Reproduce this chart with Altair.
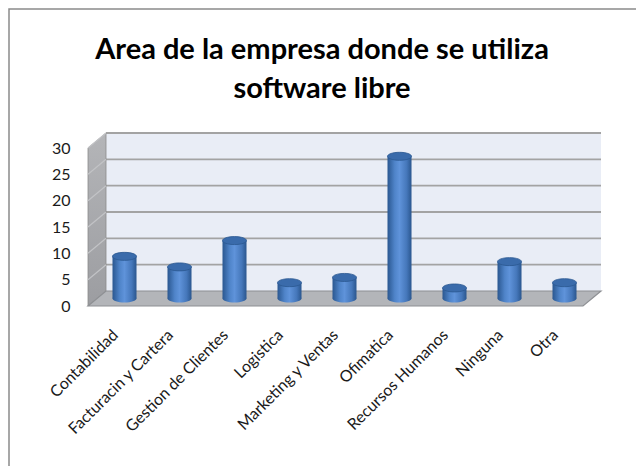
import altair as alt
import pandas as pd

# ---- data ----
categories = ["Contabilidad", "Facturacin y Cartera", "Gestion de Clientes", "Logistica",
              "Marketing y Ventas", "Ofimatica", "Recursos Humanos", "Ninguna", "Otra"]
values = [8, 6, 11, 3, 4, 27, 2, 7, 3]
y_ticks = [0, 5, 10, 15, 20, 25, 30]
title_lines = ["Area de la empresa donde se utiliza", "software libre"]

# ---- geometry / style ----
W, H = 495, 158          # front plane of the 3D box
DX, DY = 18, -15         # depth offset of the back wall
PAD_L, PAD_T = 80, 140
TOTAL_W, TOTAL_H = 628, 458
FONT = "Lato"

df = pd.DataFrame({"cat": categories, "val": values})
ticks_df = pd.DataFrame({"v": y_ticks})
one = pd.DataFrame({"k": [0]})

y_scale = alt.Scale(domain=[0, 30], nice=False, zero=True)
y_axis = alt.Axis(values=y_ticks, title=None, grid=False, domain=False, ticks=False,
                  labelPadding=18, labelFont=FONT, labelFontSize=16, labelColor="#1a1a1a")

x_enc = alt.X("cat:N", sort=categories,
              scale=alt.Scale(paddingInner=0, paddingOuter=0),
              axis=alt.Axis(title=None, labelAngle=-45, labelAlign="right",
                            labelBaseline="middle", labelPadding=26, domain=False,
                            ticks=False, labelFont=FONT, labelFontSize=16,
                            labelColor="#1a1a1a"))

bar_grad = {"gradient": "linear", "x1": 0, "x2": 1, "y1": 0, "y2": 0,
            "stops": [{"offset": 0, "color": "#2a5790"},
                      {"offset": 0.3, "color": "#4f84c9"},
                      {"offset": 0.5, "color": "#5f93da"},
                      {"offset": 0.8, "color": "#4577ba"},
                      {"offset": 1, "color": "#2a568e"}]}

side_grad = {"gradient": "linear", "x1": 0, "x2": 0, "y1": 0, "y2": 1,
             "stops": [{"offset": 0, "color": "#b4b5b8"},
                       {"offset": 1, "color": "#9c9da1"}]}

# outer chart border
border = alt.Chart(one).mark_rect(fillOpacity=0, stroke="#8a8a8a", strokeWidth=1.5).encode(
    x=alt.value(-PAD_L + 1), x2=alt.value(TOTAL_W + 50),
    y=alt.value(-PAD_T + 1), y2=alt.value(TOTAL_H + 50))

# back wall
back_wall = alt.Chart(one).mark_rect(fill="#e9edf6", xOffset=DX, x2Offset=DX,
                                     yOffset=DY, y2Offset=DY).encode(
    x=alt.value(0), x2=alt.value(W),
    y=alt.YDatum(30, scale=y_scale, axis=y_axis), y2=alt.Y2Datum(0))

side_path = f"M0,0 L{DX},{DY} L{DX},{DY - H} L0,{-H} Z"
side_wall = alt.Chart(one).mark_point(shape=side_path, size=4, filled=True, opacity=1,
                                      fill=side_grad, stroke="#8c8c8c", strokeWidth=0.8).encode(
    x=alt.value(0), y=alt.YDatum(0, scale=y_scale, axis=y_axis))

floor_path = f"M0,0 L{W},0 L{W + DX},{DY} L{DX},{DY} Z"
floor = alt.Chart(one).mark_point(shape=floor_path, size=4, filled=True, opacity=1,
                                  fill="#b3b5b9", stroke="#8e9094", strokeWidth=1.2).encode(
    x=alt.value(0), y=alt.YDatum(0, scale=y_scale, axis=y_axis))

grid_back = alt.Chart(ticks_df[ticks_df.v > 0]).mark_rule(
    color="#a3a3a3", strokeWidth=1.8, xOffset=DX, x2Offset=DX, yOffset=DY, y2Offset=DY).encode(
    x=alt.value(0), x2=alt.value(W),
    y=alt.Y("v:Q", scale=y_scale, axis=y_axis))

grid_side = alt.Chart(ticks_df[ticks_df.v > 0]).mark_rule(
    color="#c2c3c6", strokeWidth=1.2, y2Offset=DY).encode(
    x=alt.value(0), x2=alt.value(DX),
    y=alt.Y("v:Q", scale=y_scale, axis=y_axis), y2=alt.Y2("v:Q"))

ell = "M-12,0 A12,4 0 1,0 12,0 A12,4 0 1,0 -12,0 Z"
MX, MY = DX / 2, DY / 2

bottoms = alt.Chart(df).mark_point(shape=ell, size=4, filled=True, opacity=1, fill=bar_grad,
                                   xOffset=MX, yOffset=MY).encode(
    x=x_enc, y=alt.YDatum(0, scale=y_scale, axis=y_axis))

bars = alt.Chart(df).mark_bar(size=24, fill=bar_grad, xOffset=MX, x2Offset=MX,
                              yOffset=MY, y2Offset=MY).encode(
    x=x_enc,
    y=alt.Y("val:Q", scale=y_scale, axis=y_axis))

tops = alt.Chart(df).mark_point(shape=ell, size=4, filled=True, opacity=1, fill="#3a6bab",
                                stroke="#2b5890", strokeWidth=0.8,
                                xOffset=MX, yOffset=MY).encode(
    x=x_enc, y=alt.Y("val:Q", scale=y_scale, axis=y_axis))

TX = TOTAL_W / 2 - PAD_L
title1 = alt.Chart(one).mark_text(font=FONT, fontSize=29, fontWeight="bold", color="#000000",
                                  align="center", baseline="alphabetic").encode(
    x=alt.value(TX), y=alt.value(59 - 8 - PAD_T), text=alt.value(title_lines[0]))
title2 = alt.Chart(one).mark_text(font=FONT, fontSize=29, fontWeight="bold", color="#000000",
                                  align="center", baseline="alphabetic").encode(
    x=alt.value(TX), y=alt.value(98 - 8 - PAD_T), text=alt.value(title_lines[1]))

chart = alt.layer(border, back_wall, grid_back, side_wall, grid_side, floor,
                  bottoms, bars, tops, title1, title2).properties(
    width=W, height=H, autosize="none",
    padding={"left": PAD_L, "top": PAD_T, "right": TOTAL_W - PAD_L - W,
             "bottom": TOTAL_H - PAD_T - H},
    background="#ffffff"
).configure_view(stroke=None)

chart.save("out.html", embed_options={"renderer": "svg", "actions": False})
